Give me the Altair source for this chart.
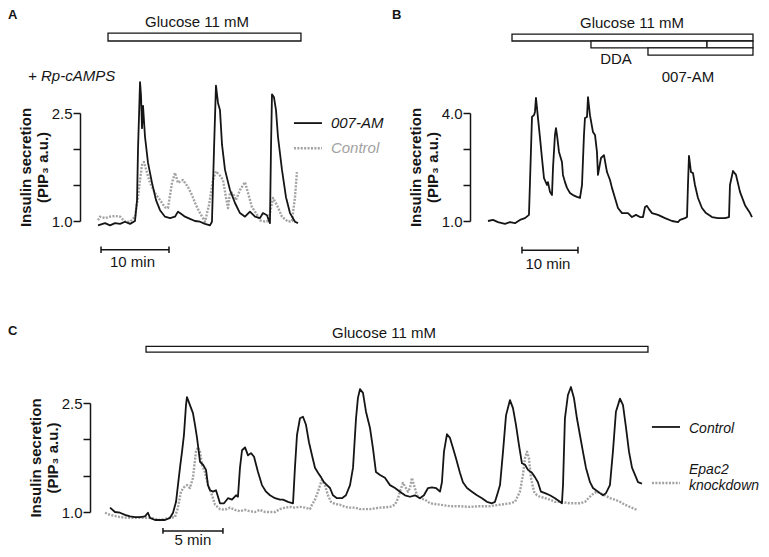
import altair as alt
import pandas as pd

FONT = "Liberation Sans"
BLACK = "#151515"
GRAY = "#a2a2a2"
DASH = [2, 1.4]

# ---------------- data (time in min, PIP3 a.u.) ----------------
# Panel A (+ Rp-cAMPS)
A_007AM = [(0.00,0.94),(1.03,0.97),(1.76,0.94),(2.50,0.97),(3.24,0.96),(3.97,0.99),(4.71,0.96),(5.44,1.00),
           (5.74,1.29),(5.88,1.99),(6.18,2.93),(6.32,2.75),(6.47,2.29),(6.62,2.60),(6.91,2.17),(7.35,1.81),
           (7.94,1.53),(8.53,1.29),(9.12,1.15),(9.85,1.06),(10.59,1.04),(11.32,1.06),(11.76,1.13),(12.21,1.10),
           (12.79,1.06),(13.53,1.03),(14.26,1.00),(15.00,0.99),(15.74,0.96),(16.47,0.94),(16.76,0.99),(17.06,1.99),
           (17.35,2.88),(17.65,2.64),(17.94,2.54),(18.24,2.06),(18.68,1.71),(19.41,1.43),(20.15,1.25),(20.88,1.11),
           (21.62,1.06),(22.35,1.13),(23.09,1.06),(23.82,1.04),(24.26,1.11),(24.85,1.08),(25.29,0.97),(25.44,1.99),
           (25.59,2.76),(25.88,2.72),(26.18,2.54),(26.47,2.17),(27.06,1.71),(27.65,1.33),(28.24,1.11),(28.97,0.99),
           (29.41,0.97)]
A_control = [(0.00,1.01),(0.29,1.06),(1.03,1.04),(1.76,1.06),(2.50,1.07),(3.24,1.06),(3.97,0.99),(4.71,0.99),
             (5.44,1.06),(5.88,1.33),(6.18,1.57),(6.47,1.78),(6.76,1.82),(7.21,1.67),(7.65,1.53),(8.38,1.39),
             (9.12,1.29),(9.85,1.19),(10.29,1.18),(10.88,1.53),(11.32,1.67),(11.76,1.53),(12.50,1.57),(13.24,1.47),
             (13.82,1.36),(14.41,1.22),(15.00,1.11),(15.74,0.99),(16.32,1.22),(16.91,1.57),(17.35,1.69),(17.94,1.63),
             (18.38,1.57),(18.82,1.33),(19.12,1.18),(19.41,1.39),(19.85,1.39),(20.29,1.29),(20.88,1.43),(21.62,1.54),
             (22.06,1.39),(22.65,1.19),(23.24,1.11),(23.82,1.01),(24.56,0.99),(25.00,1.00),(25.29,1.11),(25.74,1.32),
             (26.32,1.22),(27.06,1.06),(27.94,0.99),(28.53,1.00),(28.97,1.33),(29.26,1.68)]

# Panel B (DDA then 007-AM)
B_trace = [(0.00,1.00),(0.89,1.03),(1.79,0.97),(3.04,0.92),(3.93,0.97),(4.82,0.94),(5.71,1.03),(6.61,1.08),
           (7.32,1.17),(7.86,3.89),(8.21,3.94),(8.39,4.03),(8.57,4.42),(8.93,3.86),(9.29,3.31),(9.64,2.75),
           (10.00,2.19),(10.54,2.00),(10.71,2.08),(11.07,1.81),(11.43,1.72),(11.61,2.47),(11.96,3.39),(12.14,3.58),
           (12.32,3.39),(12.68,2.92),(13.21,2.64),(13.39,2.28),(13.75,2.08),(14.11,1.92),(14.64,1.78),(15.18,1.72),
           (15.89,1.67),(16.43,1.64),(16.79,2.00),(17.14,3.39),(17.32,3.86),(17.68,3.89),(17.86,4.44),(18.21,3.94),
           (18.75,3.47),(19.11,3.39),(19.46,2.92),(19.64,2.28),(20.18,2.75),(20.71,2.83),(21.25,2.36),(21.79,2.14),
           (22.14,1.92),(22.68,1.64),(23.21,1.36),(23.93,1.22),(25.00,1.22),(25.71,1.11),(26.43,1.17),(27.14,1.11),
           (27.68,1.11),(28.04,1.39),(28.39,1.42),(28.75,1.33),(29.29,1.22),(30.36,1.17),(31.61,1.08),(32.86,1.00),
           (33.93,0.97),(34.29,1.03),(35.18,1.08),(35.54,1.11),(35.71,2.00),(35.89,2.81),(36.25,2.36),(36.61,2.33),
           (36.96,2.00),(37.50,1.64),(38.21,1.36),(38.93,1.22),(40.00,1.11),(41.07,1.08),(42.32,1.08),(43.04,1.11),
           (43.21,2.00),(43.75,2.39),(44.29,2.28),(45.00,1.81),(45.89,1.44),(46.79,1.22),(47.14,1.11)]

# Panel C (Control vs Epac2 knockdown)
C_control = [(0.42,1.06),(0.83,1.00),(1.25,0.99),(1.67,0.96),(2.08,0.94),(2.50,0.93),(2.92,0.93),(3.33,0.94),
             (3.58,0.99),(3.75,0.92),(4.17,0.89),(4.58,0.89),(5.00,0.89),(5.42,0.92),(5.67,0.99),(5.92,1.14),
             (6.08,1.37),(6.25,1.61),(6.42,1.83),(6.58,2.06),(6.75,2.47),(6.83,2.58),(7.08,2.47),(7.33,2.36),
             (7.50,2.20),(7.67,2.02),(7.92,1.69),(8.17,1.65),(8.42,1.58),(8.58,1.37),(8.75,1.30),(9.00,1.28),
             (9.25,1.30),(9.42,1.21),(9.58,1.12),(9.92,1.12),(10.25,1.19),(10.58,1.17),(10.92,1.23),(11.08,1.21),
             (11.25,1.61),(11.42,1.85),(11.67,1.89),(11.92,1.78),(12.17,1.81),(12.42,1.76),(12.75,1.55),(13.08,1.37),
             (13.42,1.28),(13.75,1.23),(14.17,1.19),(14.58,1.17),(14.83,1.17),(15.25,1.14),(15.67,1.12),(15.83,1.61),
             (16.00,2.06),(16.25,2.29),(16.50,2.31),(16.75,2.20),(17.00,1.96),(17.25,1.78),(17.50,1.61),(17.75,1.54),
             (18.00,1.48),(18.25,1.41),(18.50,1.37),(18.75,1.33),(19.00,1.23),(19.33,1.19),(19.75,1.19),(20.08,1.23),
             (20.42,1.37),(20.67,1.61),(20.92,2.29),(21.08,2.57),(21.25,2.69),(21.50,2.64),(21.75,2.38),(22.08,2.16),
             (22.33,1.88),(22.58,1.55),(22.92,1.51),(23.33,1.47),(23.75,1.37),(24.17,1.33),(24.58,1.28),(25.00,1.23),
             (25.42,1.21),(25.83,1.23),(26.25,1.19),(26.58,1.23),(26.92,1.33),(27.25,1.34),(27.58,1.33),(27.92,1.28),
             (28.08,1.41),(28.25,1.83),(28.50,2.07),(28.75,2.02),(29.00,1.88),(29.25,1.74),(29.58,1.54),(29.83,1.41),
             (30.17,1.33),(30.58,1.28),(31.00,1.23),(31.42,1.19),(31.83,1.14),(32.25,1.12),(32.50,1.14),(32.67,1.23),
             (32.92,1.37),(33.17,1.83),(33.42,2.33),(33.75,2.54),(34.00,2.43),(34.25,2.20),(34.50,1.92),(34.75,1.67),
             (35.00,1.65),(35.25,1.58),(35.58,1.54),(35.83,1.48),(36.08,1.41),(36.33,1.28),(36.67,1.26),(37.08,1.23),
             (37.50,1.19),(37.92,1.14),(38.08,1.12),(38.17,1.37),(38.33,2.29),(38.58,2.61),(38.83,2.72),(39.08,2.57),
             (39.33,2.29),(39.58,2.06),(39.83,1.83),(40.08,1.61),(40.42,1.41),(40.67,1.33),(40.92,1.30),(41.25,1.26),
             (41.50,1.23),(41.75,1.26),(42.08,1.37),(42.33,1.83),(42.58,2.38),(42.92,2.56),(43.17,2.47),(43.42,2.16),
             (43.67,1.83),(43.92,1.61),(44.17,1.51),(44.42,1.41),(44.58,1.40),(44.75,1.39)]
C_epac2kd = [(0.00,0.99),(0.42,0.96),(1.25,0.93),(2.08,0.92),(2.92,0.92),(3.75,0.92),(4.58,0.89),(5.42,0.92),
             (5.83,0.93),(6.08,1.06),(6.33,1.28),(6.58,1.34),(6.83,1.37),(7.08,1.33),(7.33,1.47),(7.58,1.83),
             (7.75,1.89),(7.92,1.83),(8.08,1.65),(8.33,1.55),(8.58,1.37),(8.92,1.23),(9.17,1.10),(9.58,1.04),
             (10.00,1.03),(10.42,1.06),(10.83,1.03),(11.25,1.01),(11.67,1.03),(12.08,1.01),(12.50,1.00),(12.92,1.03),
             (13.33,1.00),(13.75,1.00),(14.17,1.00),(14.58,1.04),(15.00,1.06),(15.42,1.07),(15.83,1.06),(16.25,1.07),
             (16.67,1.06),(17.08,1.04),(17.25,1.10),(17.50,1.17),(17.75,1.28),(17.92,1.37),(18.08,1.44),(18.33,1.37),
             (18.58,1.23),(18.83,1.14),(19.17,1.11),(19.58,1.10),(20.00,1.07),(20.42,1.06),(20.83,1.06),(21.25,1.04),
             (22.08,1.04),(22.92,1.06),(23.75,1.07),(24.17,1.10),(24.42,1.19),(24.58,1.28),(24.83,1.40),(25.08,1.33),
             (25.25,1.28),(25.42,1.33),(25.58,1.47),(25.75,1.37),(26.00,1.23),(26.25,1.19),(26.67,1.17),(27.08,1.12),
             (27.50,1.11),(27.92,1.10),(28.75,1.08),(29.58,1.08),(30.42,1.07),(31.25,1.08),(32.08,1.08),(32.92,1.10),
             (33.75,1.12),(34.17,1.14),(34.58,1.28),(34.83,1.51),(35.00,1.74),(35.17,1.83),(35.33,1.74),(35.50,1.47),
             (35.75,1.28),(36.00,1.23),(36.25,1.21),(36.67,1.19),(37.08,1.17),(37.50,1.14),(37.92,1.14),(38.75,1.12),
             (39.58,1.12),(40.00,1.14),(40.42,1.21),(40.75,1.26),(41.00,1.28),(41.25,1.26),(41.67,1.23),(42.08,1.19),
             (42.50,1.17),(42.92,1.14),(43.33,1.10),(43.75,1.07),(44.17,1.04),(44.33,1.03)]

# treatment periods (min) and scale bars (min)
A_glucose = (1.47, 29.85)
B_glucose = (4.29, 47.32)
B_dda = (18.39, 39.11)
B_dda_tail = (39.11, 47.32)
B_007 = (28.57, 47.32)
C_glucose = (3.42, 45.25)
A_scalebar = (0.44, 10.44)
B_scalebar = (6.07, 16.07)
C_scalebar = (4.83, 9.83)

Y_TITLE = ["Insulin secretion", "(PIP\u2083 a.u.)"]


def to_df(pairs):
    return pd.DataFrame(pairs, columns=["t", "v"])


def make_panel(xdom, ydom, width, height, tick_values, shown, axis_offset,
               traces, rects, texts, scalebar, legend_rules):
    xs = alt.Scale(domain=list(xdom), nice=False, zero=False)
    ys = alt.Scale(domain=list(ydom), nice=False, zero=False)
    cond = " || ".join(f"datum.value == {s}" for s in shown)
    yax = alt.Axis(values=tick_values, labelExpr=f"({cond}) ? format(datum.value, '.1f') : ''",
                   title=Y_TITLE, grid=False, domainColor=BLACK, domainWidth=1.5, tickColor=BLACK,
                   tickWidth=1.5, tickSize=7, labelPadding=1, labelFont=FONT, labelFontSize=15,
                   labelColor=BLACK, titleFont=FONT, titleFontSize=15, titleFontWeight="bold",
                   titleColor=BLACK, titlePadding=1, titleLineHeight=17, offset=axis_offset)

    def X(f):
        return alt.X(f"{f}:Q", scale=xs, axis=None)

    def Y(f):
        return alt.Y(f"{f}:Q", scale=ys, axis=yax)

    layers = []
    for df, color, sw, dash in traces:
        kw = dict(color=color, strokeWidth=sw, strokeJoin="round")
        if dash:
            kw["strokeDash"] = dash
        layers.append(alt.Chart(df).mark_line(**kw).encode(x=X("t"), y=Y("v")))
    if rects:
        rdf = pd.DataFrame(rects, columns=["t0", "t1", "v0", "v1"])
        layers.append(alt.Chart(rdf).mark_rect(fill="white", stroke=BLACK, strokeWidth=1.3)
                      .encode(x=X("t0"), x2="t1:Q", y=Y("v0"), y2="v1:Q"))
    # scale bar
    t0, t1, v, cap = scalebar
    sb = pd.DataFrame([dict(t0=t0, t1=t1, v=v)])
    layers.append(alt.Chart(sb).mark_rule(color=BLACK, strokeWidth=1.5)
                  .encode(x=X("t0"), x2="t1:Q", y=Y("v")))
    caps = pd.DataFrame([dict(t=t0, v0=v - cap, v1=v + cap), dict(t=t1, v0=v - cap, v1=v + cap)])
    layers.append(alt.Chart(caps).mark_rule(color=BLACK, strokeWidth=1.5)
                  .encode(x=X("t"), y=Y("v0"), y2="v1:Q"))
    # legend keys
    for (lt0, lt1, lv, color, sw, dash) in legend_rules:
        kw = dict(color=color, strokeWidth=sw)
        if dash:
            kw["strokeDash"] = dash
        ldf = pd.DataFrame([dict(t0=lt0, t1=lt1, v=lv)])
        layers.append(alt.Chart(ldf).mark_rule(**kw).encode(x=X("t0"), x2="t1:Q", y=Y("v")))
    # texts
    for (tt, tv, label, align, style, weight, size, color) in texts:
        tdf = pd.DataFrame([dict(t=tt, v=tv, label=label)])
        layers.append(alt.Chart(tdf).mark_text(font=FONT, fontSize=size, align=align,
                                               baseline="alphabetic", fontStyle=style,
                                               fontWeight=weight, color=color)
                      .encode(x=X("t"), y=Y("v"), text="label:N"))
    return alt.layer(*layers).properties(width=width, height=height)


# ---------------- Panel A ----------------
panel_a = make_panel(
    xdom=(-1.18, 29.71), ydom=(1.0, 2.5), width=210, height=108,
    tick_values=[1.0, 1.5, 2.0, 2.5], shown=[1, 2.5], axis_offset=10,
    traces=[(to_df(A_control), GRAY, 2.4, DASH), (to_df(A_007AM), BLACK, 1.8, None)],
    rects=[(A_glucose[0], A_glucose[1], 3.50, 3.61)],
    texts=[(14.56, 3.69, "Glucose 11 mM", "center", "normal", "normal", 15, BLACK),
           (-10.29, 2.94, "+ Rp-cAMPS", "left", "italic", "normal", 15, BLACK),
           (5.07, 0.36, "10 min", "center", "normal", "normal", 15, BLACK),
           (34.26, 2.29, "007-AM", "left", "italic", "normal", 15, BLACK),
           (34.26, 1.94, "Control", "left", "italic", "normal", 15, GRAY),
           (-13.24, 3.80, "A", "left", "normal", "bold", 13, BLACK)],
    scalebar=(A_scalebar[0], A_scalebar[1], 0.60, 0.046),
    legend_rules=[(28.82, 32.94, 2.36, BLACK, 1.8, None), (28.82, 32.94, 2.01, GRAY, 2.4, DASH)],
)

# ---------------- Panel B ----------------
panel_b = make_panel(
    xdom=(-3.21, 47.68), ydom=(1.0, 4.0), width=285, height=108,
    tick_values=[1.0, 2.0, 3.0, 4.0], shown=[1, 4], axis_offset=0,
    traces=[(to_df(B_trace), BLACK, 1.8, None)],
    rects=[(B_glucose[0], B_glucose[1], 6.00, 6.19),
           (B_dda[0], B_dda[1], 5.81, 6.00),
           (B_dda_tail[0], B_dda_tail[1], 5.81, 6.00),
           (B_007[0], B_007[1], 5.61, 5.81)],
    texts=[(25.71, 6.36, "Glucose 11 mM", "center", "normal", "normal", 15, BLACK),
           (22.86, 5.36, "DDA", "center", "normal", "normal", 15, BLACK),
           (35.71, 4.86, "007-AM", "center", "normal", "normal", 15, BLACK),
           (10.71, -0.33, "10 min", "center", "normal", "normal", 15, BLACK),
           (-17.14, 6.60, "B", "left", "normal", "bold", 13, BLACK)],
    scalebar=(B_scalebar[0], B_scalebar[1], 0.19, 0.092),
    legend_rules=[],
)

# ---------------- Panel C ----------------
panel_c = make_panel(
    xdom=(-1.25, 45.42), ydom=(1.0, 2.5), width=560, height=109,
    tick_values=[1.0, 1.5, 2.0, 2.5], shown=[1, 2.5], axis_offset=0,
    traces=[(to_df(C_epac2kd), GRAY, 2.4, DASH), (to_df(C_control), BLACK, 1.8, None)],
    rects=[(C_glucose[0], C_glucose[1], 3.20, 3.28)],
    texts=[(23.25, 3.39, "Glucose 11 mM", "center", "normal", "normal", 15, BLACK),
           (7.33, 0.545, "5 min", "center", "normal", "normal", 15, BLACK),
           (48.67, 2.09, "Control", "left", "italic", "normal", 14, BLACK),
           (48.67, 1.52, "Epac2", "left", "italic", "normal", 14, BLACK),
           (48.67, 1.30, "knockdown", "left", "italic", "normal", 14, BLACK),
           (-8.08, 3.44, "C", "left", "normal", "bold", 13, BLACK)],
    scalebar=(C_scalebar[0], C_scalebar[1], 0.74, 0.041),
    legend_rules=[(45.58, 47.92, 2.17, BLACK, 1.8, None), (45.58, 47.92, 1.40, GRAY, 2.4, DASH)],
)

top = alt.hconcat(panel_a, panel_b, spacing=170, bounds="flush")
chart = alt.vconcat(top, panel_c, spacing=290, bounds="flush").properties(
    autosize=alt.AutoSizeParams(type="none"),
    padding={"left": 82, "top": 105, "right": 671, "bottom": 436},
).configure_view(stroke=None)

chart.save("out.html", embed_options={"renderer": "svg", "actions": False})
